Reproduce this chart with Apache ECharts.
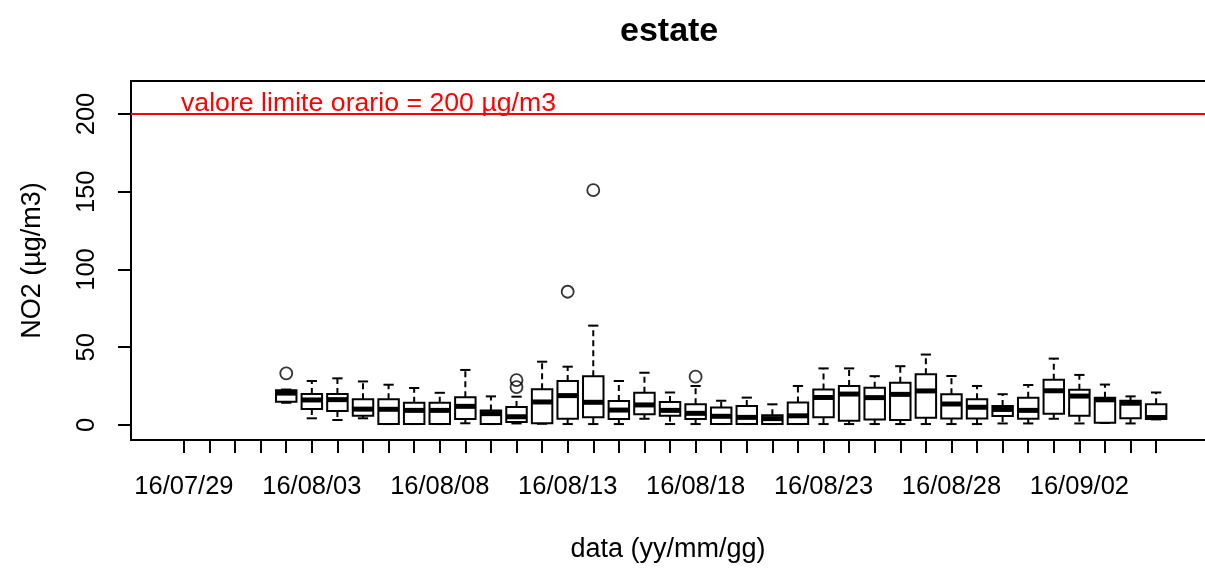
<!DOCTYPE html>
<html>
<head>
<meta charset="utf-8">
<title>estate</title>
<script src="https://cdn.jsdelivr.net/npm/echarts@6/dist/echarts.min.js"></script>
<style>
  html, body { margin: 0; padding: 0; background: #fff; }
  #chart { width: 1205px; height: 569px; }
</style>
</head>
<body>
<div id="chart"></div>
<script>
// Daily NO2 distribution, summer period
const dates = [
  '16/08/02','16/08/03','16/08/04','16/08/05','16/08/06','16/08/07','16/08/08',
  '16/08/09','16/08/10','16/08/11','16/08/12','16/08/13','16/08/14','16/08/15',
  '16/08/16','16/08/17','16/08/18','16/08/19','16/08/20','16/08/21','16/08/22',
  '16/08/23','16/08/24','16/08/25','16/08/26','16/08/27','16/08/28','16/08/29',
  '16/08/30','16/08/31','16/09/01','16/09/02','16/09/03','16/09/04','16/09/05'
];
const whiskerLow = [
  14.3, 4.3, 3.2, 4.3, 0.6, 0.6, 0.6,
  1.1, 0.6, 1.0, 0.8, 0.6, 0.6, 0.6,
  4.0, 0.6, 0.6, 0.6, 0.6, 0.6, 0.6,
  0.6, 0.6, 0.6, 0.6, 0.6, 0.6, 0.6,
  1.0, 1.0, 4.0, 1.0, 1.3, 1.0, 3.6
];
const q1 = [
  15.0, 10.3, 9.0, 6.0, 0.6, 0.6, 0.6,
  3.9, 0.6, 2.0, 1.1, 4.0, 4.9, 3.9,
  6.9, 6.0, 3.8, 0.6, 0.6, 0.6, 0.6,
  4.9, 2.8, 3.6, 3.2, 4.7, 4.1, 4.1,
  5.8, 4.0, 7.3, 6.0, 1.5, 4.3, 3.8
];
const median = [
  20.5, 16.1, 16.3, 10.2, 10.1, 9.4, 9.4,
  12.0, 7.3, 5.3, 14.8, 18.9, 14.6, 9.6,
  12.9, 9.4, 7.5, 5.6, 4.9, 4.1, 5.9,
  17.7, 19.9, 17.6, 19.7, 21.9, 13.5, 11.4,
  10.0, 9.4, 22.0, 18.6, 16.2, 14.0, 4.8
];
const q3 = [
  22.3, 19.9, 19.9, 16.6, 16.5, 14.3, 14.3,
  17.8, 9.3, 11.5, 23.0, 28.3, 31.3, 15.5,
  20.8, 14.8, 13.4, 11.2, 12.2, 6.2, 14.4,
  22.9, 25.1, 24.0, 27.2, 32.6, 19.7, 16.5,
  12.2, 17.6, 29.1, 22.7, 17.6, 15.6, 13.3
];
const whiskerHigh = [
  22.8, 28.3, 30.0, 28.0, 25.9, 23.8, 20.7,
  35.4, 18.4, 18.2, 40.7, 37.5, 63.9, 28.3,
  33.6, 20.9, 25.1, 15.6, 17.6, 13.3, 25.1,
  36.4, 36.4, 31.4, 37.8, 45.3, 31.5, 25.1,
  19.8, 25.7, 42.7, 32.2, 26.0, 18.4, 20.9
];
const outlierDates  = ['16/08/02', '16/08/11', '16/08/11', '16/08/13', '16/08/14', '16/08/18'];
const outlierValues = [33.2, 24.4, 28.9, 85.7, 151.0, 31.1];

const limitValue = 200;
const tickLabels = ['16/07/29','16/08/03','16/08/08','16/08/13','16/08/18','16/08/23','16/08/28','16/09/02'];
const yTicks = [0, 50, 100, 150, 200];
const firstTickDate = '16/07/29';
const lastTickDate  = '16/09/05';

// day offset from the first tick date
function dayIndex(s) {
  const [yy, mm, dd] = s.split('/').map(Number);
  const [y0, m0, d0] = firstTickDate.split('/').map(Number);
  return Math.round((Date.UTC(2000 + yy, mm - 1, dd) - Date.UTC(2000 + y0, m0 - 1, d0)) / 864e5);
}

const labelDays = tickLabels.map(dayIndex);
const labelByDay = {};
tickLabels.forEach((t, i) => { labelByDay[labelDays[i]] = t; });
const tickDays = [];
for (let d = dayIndex(firstTickDate); d <= dayIndex(lastTickDate); d++) tickDays.push(d);

const boxData = dates.map((d, i) => [dayIndex(d), whiskerLow[i], q1[i], median[i], q3[i], whiskerHigh[i]]);
const outlierData = outlierDates.map((d, i) => [dayIndex(d), outlierValues[i]]);

const FONT = 'Liberation Sans, Arial, sans-serif';
const BOX_HALF = 0.4;     // half box width, in days
const STAPLE_HALF = 0.2;  // half whisker-end width, in days
const X_MIN = -2.068, X_MAX = 39.91;

function renderBox(params, api) {
  const x = api.value(0);
  const lo = api.value(1), b1 = api.value(2), md = api.value(3), b3 = api.value(4), hi = api.value(5);
  const pc = (vx, vy) => api.coord([vx, vy]);
  const topL = pc(x - BOX_HALF, b3), botR = pc(x + BOX_HALF, b1);
  const cHi = pc(x, hi), cQ3 = pc(x, b3), cQ1 = pc(x, b1), cLo = pc(x, lo);
  const sHiL = pc(x - STAPLE_HALF, hi), sHiR = pc(x + STAPLE_HALF, hi);
  const sLoL = pc(x - STAPLE_HALF, lo), sLoR = pc(x + STAPLE_HALF, lo);
  const mL = pc(x - BOX_HALF, md), mR = pc(x + BOX_HALF, md);
  const solid = { stroke: '#000', lineWidth: 2, fill: null };
  const dashed = { stroke: '#000', lineWidth: 2, lineDash: [6, 4], fill: null };
  return {
    type: 'group',
    children: [
      { type: 'line', shape: { x1: cQ3[0], y1: cQ3[1], x2: cHi[0], y2: cHi[1] }, style: dashed },
      { type: 'line', shape: { x1: cQ1[0], y1: cQ1[1], x2: cLo[0], y2: cLo[1] }, style: dashed },
      { type: 'line', shape: { x1: sHiL[0], y1: sHiL[1], x2: sHiR[0], y2: sHiR[1] }, style: solid },
      { type: 'line', shape: { x1: sLoL[0], y1: sLoL[1], x2: sLoR[0], y2: sLoR[1] }, style: solid },
      { type: 'rect',
        shape: { x: topL[0], y: topL[1], width: botR[0] - topL[0], height: Math.max(botR[1] - topL[1], 0.5) },
        style: { stroke: '#000', lineWidth: 2, fill: '#fff' } },
      { type: 'line', shape: { x1: mL[0], y1: mL[1], x2: mR[0], y2: mR[1] },
        style: { stroke: '#000', lineWidth: 5, fill: null } }
    ]
  };
}

const axisLineStyle = { color: '#000', width: 2 };

const chart = echarts.init(document.getElementById('chart'), null, { renderer: 'canvas' });
chart.setOption({
  animation: false,
  backgroundColor: '#fff',
  title: {
    text: 'estate',
    left: 620,
    top: 15,
    padding: 0,
    textStyle: { fontFamily: FONT, fontSize: 34, fontWeight: 'bold', color: '#000' }
  },
  grid: { left: 131, top: 81, right: -20, bottom: 129, show: false },
  xAxis: [
    {
      type: 'value',
      position: 'bottom',
      min: X_MIN,
      max: X_MAX,
      name: 'data (yy/mm/gg)',
      nameLocation: 'middle',
      nameGap: 96,
      nameTextStyle: { fontFamily: FONT, fontSize: 27, color: '#000' },
      splitLine: { show: false },
      axisLine: { show: true, onZero: false, lineStyle: axisLineStyle },
      axisTick: { show: true, length: 13, customValues: tickDays, lineStyle: axisLineStyle },
      axisLabel: {
        show: true, customValues: labelDays, margin: 34,
        formatter: v => labelByDay[v] || '',
        fontFamily: FONT, fontSize: 25.5, color: '#000'
      }
    },
    {
      // top edge of the plot frame
      type: 'value',
      position: 'top',
      min: X_MIN,
      max: X_MAX,
      splitLine: { show: false },
      axisLine: { show: true, onZero: false, lineStyle: axisLineStyle },
      axisTick: { show: false },
      axisLabel: { show: false }
    }
  ],
  yAxis: {
    type: 'value',
    min: -9.65,
    max: 221.22,
    name: 'NO2 (µg/m3)',
    nameLocation: 'middle',
    nameRotate: 90,
    nameGap: 85,
    nameTextStyle: { fontFamily: FONT, fontSize: 27, color: '#000' },
    splitLine: { show: false },
    axisLine: { show: true, onZero: false, lineStyle: axisLineStyle },
    axisTick: { show: true, length: 13, customValues: yTicks, lineStyle: axisLineStyle },
    axisLabel: {
      show: true, customValues: yTicks, rotate: 90, margin: 31,
      fontFamily: FONT, fontSize: 25.5, color: '#000'
    }
  },
  series: [
    {
      type: 'custom',
      name: 'NO2',
      renderItem: renderBox,
      encode: { x: 0, y: [1, 2, 3, 4, 5] },
      data: boxData,
      z: 3
    },
    {
      type: 'scatter',
      name: 'outlier',
      data: outlierData,
      symbol: 'circle',
      symbolSize: 12,
      itemStyle: { color: 'rgba(255,255,255,0)', borderColor: '#000', borderWidth: 1.8 },
      z: 4,
      markLine: {
        silent: true,
        symbol: 'none',
        animation: false,
        lineStyle: { color: '#ff0000', width: 2, type: 'solid' },
        label: {
          show: true,
          position: 'insideStartTop',
          distance: [50, -3],
          formatter: `valore limite orario = ${limitValue} µg/m3`,
          fontFamily: FONT, fontSize: 26.7, color: '#ff0000'
        },
        data: [{ yAxis: limitValue }]
      }
    }
  ]
});
</script>
</body>
</html>
